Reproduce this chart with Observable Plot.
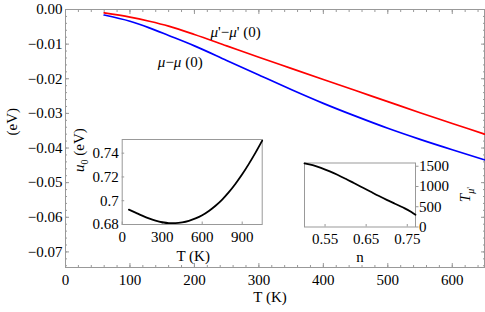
<!DOCTYPE html>
<html>
<head>
<meta charset="utf-8">
<script src="https://cdn.jsdelivr.net/npm/d3@7"></script>
<script src="https://cdn.jsdelivr.net/npm/@observablehq/plot@0.6"></script>
<style>
  html, body { margin: 0; padding: 0; background: white; }
  #wrap { position: relative; width: 485px; height: 312px; }
  #wrap > svg { position: absolute; overflow: visible; }
  #wrap svg, #wrap svg text { font-family: "Liberation Serif", "Times New Roman", "DejaVu Serif", serif !important; }
</style>
</head>
<body>
<div id="wrap"></div>
<script>
// ---- Main chart data ----
const mainT    = [60, 100, 130, 160, 200, 250, 300, 350, 400, 450, 500, 550, 600, 650];
const muPrime  = [-0.0010, -0.0022, -0.0034, -0.0048, -0.0072, -0.0105, -0.0138, -0.0170, -0.0202, -0.0234, -0.0266, -0.0298, -0.0329, -0.0360];
const mu       = [-0.0016, -0.0034, -0.0053, -0.0075, -0.0105, -0.0147, -0.0189, -0.0231, -0.0271, -0.0308, -0.0343, -0.0375, -0.0405, -0.0434];
const mainXTicks = [0, 100, 200, 300, 400, 500, 600];
const mainYTicks = [0, -0.01, -0.02, -0.03, -0.04, -0.05, -0.06, -0.07];

// ---- Inset 1 data: u0 vs T ----
const in1T  = [50, 100, 150, 200, 250, 300, 350, 400, 450, 500, 550, 600, 650, 700, 750, 800, 850, 900, 950, 1000, 1050];
const in1u0 = [0.6925, 0.6900, 0.6875, 0.6852, 0.6833, 0.6819, 0.6812, 0.6812, 0.6818, 0.6831, 0.6851, 0.6878, 0.6914, 0.6958, 0.7010, 0.7072, 0.7143, 0.7222, 0.7310, 0.7405, 0.7506];
const in1XTicks = [0, 300, 600, 900];
const in1YTicks = [0.68, 0.70, 0.72, 0.74];

// ---- Inset 2 data: T_mu' vs n ----
const in2n  = [0.50, 0.52, 0.54, 0.56, 0.58, 0.60, 0.62, 0.64, 0.66, 0.68, 0.70, 0.72, 0.74, 0.76, 0.77];
const in2T  = [1570, 1525, 1460, 1380, 1290, 1190, 1085, 980, 875, 770, 670, 575, 480, 370, 300];
const in2XTicks = [0.55, 0.65, 0.75];
const in2YTicks = [0, 500, 1000, 1500];

const FONT = "Liberation Serif, Times New Roman, serif";
const FS = "15px";
const GRAY = "#999";

function range(a, b, s) { const r = []; for (let v = a; v <= b + 1e-9; v += s) r.push(+v.toFixed(6)); return r; }

const redData  = mainT.map((t, i) => ({T: t, v: muPrime[i]}));
const blueData = mainT.map((t, i) => ({T: t, v: mu[i]}));

const main = Plot.plot({
  width: 485, height: 312,
  marginLeft: 65, marginRight: 1, marginTop: 9, marginBottom: 45,
  x: {domain: [0, 650]},
  y: {domain: [-0.0745, 0]},
  style: {fontFamily: FONT, fontSize: FS, color: "black", background: "transparent", overflow: "visible"},
  marks: [
    Plot.frame({stroke: GRAY}),
    Plot.axisX({anchor: "bottom", ticks: mainXTicks, tickSize: -4, tickPadding: 11, stroke: GRAY, fill: "black", tickFormat: d => String(d), label: null}),
    Plot.axisX({anchor: "bottom", ticks: range(0, 640, 20), tickSize: -2, tickFormat: () => "", stroke: GRAY, label: null}),
    Plot.axisX({anchor: "top", ticks: mainXTicks, tickSize: -4, tickFormat: () => "", stroke: GRAY, label: null}),
    Plot.axisX({anchor: "top", ticks: range(0, 640, 20), tickSize: -2, tickFormat: () => "", stroke: GRAY, label: null}),
    Plot.axisY({anchor: "left", ticks: mainYTicks, tickSize: -4, tickPadding: 7, stroke: GRAY, fill: "black", tickFormat: d3.format(".2f"), label: null}),
    Plot.axisY({anchor: "left", ticks: range(-0.074, 0, 0.002), tickSize: -2, tickFormat: () => "", stroke: GRAY, label: null}),
    Plot.axisY({anchor: "right", ticks: mainYTicks, tickSize: -4, tickFormat: () => "", stroke: GRAY, label: null}),
    Plot.axisY({anchor: "right", ticks: range(-0.074, 0, 0.002), tickSize: -2, tickFormat: () => "", stroke: GRAY, label: null}),
    Plot.line(redData, {x: "T", y: "v", stroke: "#ff0000", strokeWidth: 1.7, curve: "monotone-x"}),
    Plot.line(blueData, {x: "T", y: "v", stroke: "#0000ff", strokeWidth: 1.7, curve: "monotone-x"}),
    Plot.text(["μ'−μ' (0)"], {x: 264, y: -0.0066, text: d => d, className: "lab-red"}),
    Plot.text(["μ−μ (0)"], {x: 178, y: -0.0152, text: d => d, className: "lab-blue"}),
    Plot.text(["T (K)"], {frameAnchor: "bottom", dx: -5, dy: 34, text: d => d}),
    Plot.text(["(eV)"], {frameAnchor: "left", dx: -53, dy: -3, rotate: -90, text: d => d})
  ]
});

const in1Data = in1T.map((t, i) => ({T: t, u: in1u0[i]}));
const inset1 = Plot.plot({
  width: 210, height: 145,
  marginLeft: 61.7, marginRight: 8.3, marginTop: 14, marginBottom: 46,
  x: {domain: [0, 1050]},
  y: {domain: [0.68, 0.7515]},
  style: {fontFamily: FONT, fontSize: FS, color: "black", background: "transparent", overflow: "visible"},
  marks: [
    Plot.frame({fill: "white", stroke: GRAY}),
    Plot.axisX({anchor: "bottom", ticks: in1XTicks, tickSize: -2.5, tickPadding: 9, stroke: GRAY, fill: "black", tickFormat: d => String(d), label: null}),
    Plot.axisY({anchor: "left", ticks: in1YTicks, tickSize: -2.5, tickPadding: 6, stroke: GRAY, fill: "black", tickFormat: d => String(+d.toFixed(2)), label: null}),
    Plot.line(in1Data, {x: "T", y: "u", stroke: "black", strokeWidth: 1.8, curve: "monotone-x"}),
    Plot.text(["T (K)"], {frameAnchor: "bottom", dx: 1, dy: 36, text: d => d}),
    Plot.text(["u0 (eV)"], {frameAnchor: "left", dx: -43, dy: -10, rotate: -90, text: d => d, className: "lab-u0"})
  ]
});

const in2Data = in2n.map((n, i) => ({n, T: in2T[i]}));
const inset2 = Plot.plot({
  width: 195, height: 125,
  marginLeft: 14, marginRight: 70, marginTop: 12.5, marginBottom: 48.5,
  x: {domain: [0.5, 0.77]},
  y: {domain: [0, 1580]},
  style: {fontFamily: FONT, fontSize: FS, color: "black", background: "transparent", overflow: "visible"},
  marks: [
    Plot.frame({fill: "white", stroke: GRAY}),
    Plot.axisX({anchor: "bottom", ticks: in2XTicks, tickSize: -2.5, tickPadding: 9, stroke: GRAY, fill: "black", tickFormat: d => d.toFixed(2), label: null}),
    Plot.axisY({anchor: "right", ticks: in2YTicks, tickSize: 2.5, tickPadding: 1, stroke: GRAY, fill: "black", tickFormat: d => String(d), label: null}),
    Plot.line(in2Data, {x: "n", y: "T", stroke: "black", strokeWidth: 1.8, curve: "monotone-x"}),
    Plot.text(["n"], {frameAnchor: "bottom", dy: 35, text: d => d}),
    Plot.text(["Tmu"], {frameAnchor: "right", dx: 50, dy: -8, rotate: -90, text: d => d, className: "lab-tmu"})
  ]
});

const wrap = document.getElementById("wrap");
function place(svg, left, top) { svg.style.left = left + "px"; svg.style.top = top + "px"; wrap.appendChild(svg); }
place(main, 0, 0);
place(inset1, 60, 125);
place(inset2, 290, 150);

function rich(root, cls, html) {
  root.querySelectorAll("." + cls + " text").forEach(t => { t.innerHTML = html; });
}
rich(main, "lab-red", `<tspan font-style="italic">μ</tspan>'−<tspan font-style="italic">μ</tspan>' (0)`);
rich(main, "lab-blue", `<tspan font-style="italic">μ</tspan>−<tspan font-style="italic">μ</tspan> (0)`);
rich(inset1, "lab-u0", `<tspan font-style="italic">u</tspan><tspan font-size="10px" dy="4">0</tspan><tspan dy="-4"> (eV)</tspan>`);
rich(inset2, "lab-tmu", `<tspan font-style="italic">T</tspan><tspan font-size="10px" font-style="italic" dy="4">μ</tspan><tspan font-size="10px">'</tspan>`);
</script>
</body>
</html>
